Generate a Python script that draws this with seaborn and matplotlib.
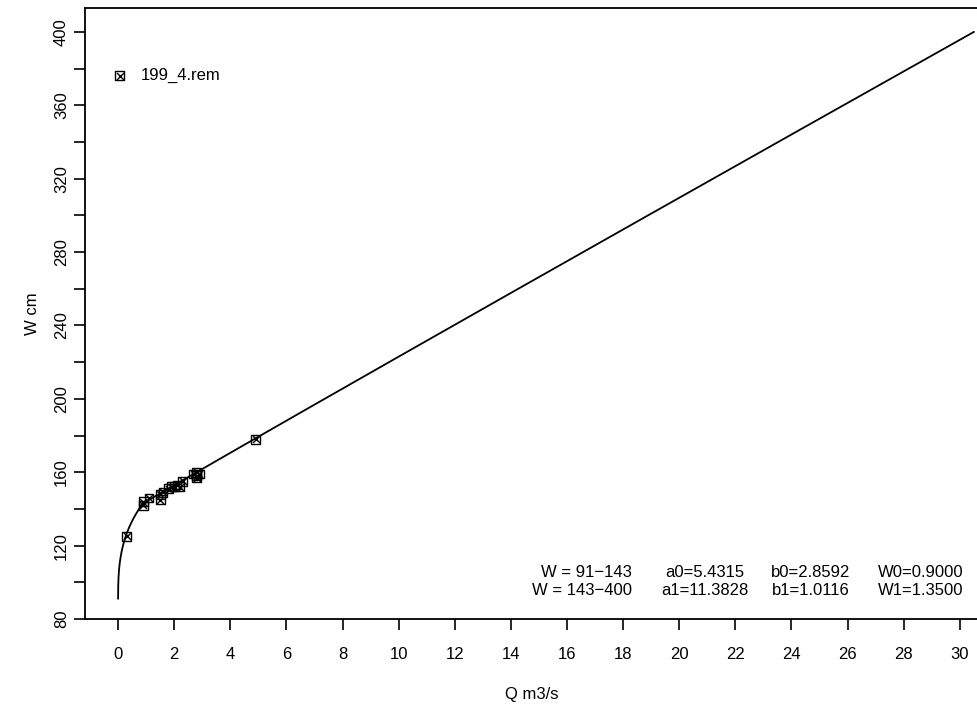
import numpy as np
import matplotlib
matplotlib.use("Agg")
import matplotlib.pyplot as plt
import seaborn as sns
import pandas as pd

# observed points (Q m3/s, W cm)
obs_q = [0.3, 0.9, 0.9, 1.1, 1.5, 1.5, 1.6, 1.8, 1.9, 2.0, 2.1, 2.2, 2.3, 2.7, 2.8, 2.8, 2.9, 2.8, 4.9]
obs_w = [125, 142, 144, 146, 145, 148, 149, 151, 152, 152, 153, 152, 155, 159, 158, 160, 159, 157, 178]
# rating-curve parameters printed on the chart
seg_low = (91, 143, 5.4315, 2.8592, 0.9000)
seg_high = (143, 400, 11.3828, 1.0116, 1.3500)

sns.set_theme(style="white")
plt.rcParams['font.family'] = ['Liberation Sans', 'DejaVu Sans']
plt.rcParams['text.color'] = 'black'
plt.rcParams['axes.labelcolor'] = 'black'
plt.rcParams['xtick.color'] = 'black'
plt.rcParams['ytick.color'] = 'black'
fig = plt.figure(figsize=(9.78, 7.07), dpi=100)
ax = fig.add_axes([85/978, 88/707, 893/978, 611/707])

for lo, hi, a, b, w0 in (seg_low, seg_high):
    w = np.linspace(lo, hi, 300)
    q = a * np.clip(w/100 - w0, 0, None) ** b
    sns.lineplot(x=q, y=w, ax=ax, color='black', lw=1.3, sort=False, estimator=None)

df = pd.DataFrame({'Q': obs_q, 'W': obs_w})
sns.scatterplot(data=df, x='Q', y='W', ax=ax, marker='s', s=40, facecolor='none',
                edgecolor='black', linewidth=1)
sns.scatterplot(data=df, x='Q', y='W', ax=ax, marker='x', s=25, color='black', linewidth=1)

ax.set_xlim(-1.18, 30.65)
ax.set_ylim(80, 413)
ax.set_xticks(range(0, 31, 2))
ax.set_yticks(range(80, 401, 40))
ax.set_yticks(range(100, 401, 40), minor=True)
ax.tick_params(axis='both', which='both', direction='out', length=8, width=1.2,
               labelsize=12, bottom=True, left=True)
ax.tick_params(axis='x', pad=12)
for t in ax.get_yticklabels():
    t.set_rotation(90); t.set_va('center')
for s in ax.spines.values():
    s.set_color('black'); s.set_linewidth(1.3)
ax.spines['right'].set_visible(False)
ax.set_xlabel('Q m3/s', fontsize=12, labelpad=18)
ax.set_ylabel('W cm', fontsize=12, labelpad=10)

ax.scatter([0.05], [376], marker='s', s=40, facecolor='none', edgecolor='black', lw=1)
ax.scatter([0.05], [376], marker='x', s=25, color='black', lw=1)
ax.text(0.8, 376, '199_4.rem', fontsize=12, va='center')

rows = [("W = 91\u2212143", "a0=5.4315", "b0=2.8592", "W0=0.9000"),
        ("W = 143\u2212400", "a1=11.3828", "b1=1.0116", "W1=1.3500")]
xs = [18.3, 20.9, 24.7, 28.6]
for i, r in enumerate(rows):
    yy = 105.6 - i*10.3
    for j, t in enumerate(r):
        ax.text(xs[j], yy, t, fontsize=12, ha='right' if j == 0 else 'center', va='center')

fig.savefig('out.png', dpi=100)
